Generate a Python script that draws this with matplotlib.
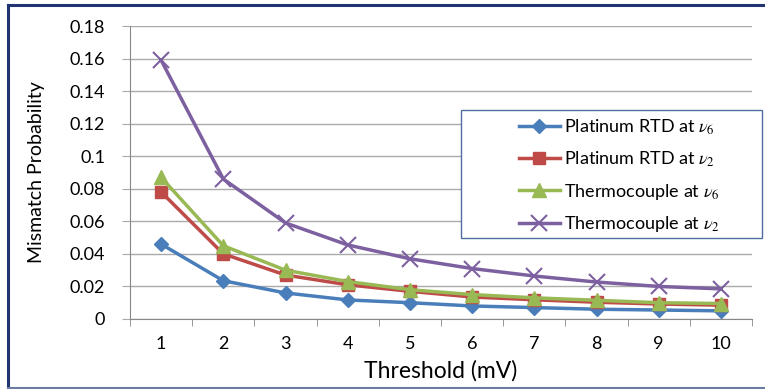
import matplotlib.pyplot as plt
from matplotlib.patches import Rectangle
from matplotlib.lines import Line2D

plt.rcParams['font.family'] = ['Lato', 'DejaVu Sans']
plt.rcParams['mathtext.fontset'] = 'stix'

threshold = [1, 2, 3, 4, 5, 6, 7, 8, 9, 10]
rtd_v6 = [0.046, 0.0235, 0.016, 0.0117, 0.010, 0.008, 0.007, 0.006, 0.0055, 0.005]
rtd_v2 = [0.078, 0.040, 0.027, 0.021, 0.017, 0.0135, 0.0118, 0.0103, 0.0092, 0.0085]
tc_v6 = [0.087, 0.045, 0.030, 0.023, 0.018, 0.015, 0.013, 0.0115, 0.010, 0.0095]
tc_v2 = [0.159, 0.086, 0.059, 0.0455, 0.037, 0.031, 0.0264, 0.0227, 0.020, 0.0185]

labels = ['Platinum RTD at $\\nu_6$', 'Platinum RTD at $\\nu_2$',
          'Thermocouple at $\\nu_6$', 'Thermocouple at $\\nu_2$']

fig = plt.figure(figsize=(7.65, 3.89), dpi=100)
ax = fig.add_axes([0.170, 0.180, 0.813, 0.753])

ax.plot(threshold, rtd_v6, color='#4A7EBB', lw=2.5, marker='D', ms=7, label=labels[0])
ax.plot(threshold, rtd_v2, color='#BE4B48', lw=2.5, marker='s', ms=9, label=labels[1])
ax.plot(threshold, tc_v6, color='#98B954', lw=2.5, marker='^', ms=10, label=labels[2])
ax.plot(threshold, tc_v2, color='#7D60A0', lw=2.5, marker='x', ms=11, mew=1.5, label=labels[3])

ax.set_xlim(0.5, 10.5)
ax.set_ylim(0, 0.18)
ax.set_yticks([0, 0.02, 0.04, 0.06, 0.08, 0.1, 0.12, 0.14, 0.16, 0.18])
ax.set_yticklabels(['0', '0.02', '0.04', '0.06', '0.08', '0.1', '0.12', '0.14', '0.16', '0.18'])
ax.set_xticks(threshold)
ax.set_xticks([x + 0.5 for x in range(0, 11)], minor=True)
ax.tick_params(axis='x', which='major', length=0, pad=12, labelsize=13)
ax.tick_params(axis='x', which='minor', length=5, color='#888888')
ax.tick_params(axis='y', length=6, color='#aaaaaa', labelsize=13, pad=12)
ax.grid(axis='y', color='#aaaaaa', lw=1)
ax.set_axisbelow(True)
for s in ['top', 'right']:
    ax.spines[s].set_visible(False)
for s in ['left', 'bottom']:
    ax.spines[s].set_color('#888888')

ax.set_xlabel('Threshold (mV)', fontsize=16.5, labelpad=6)
ax.set_ylabel('Mismatch Probability', fontsize=14, labelpad=18)

# legend box
box = Rectangle((0.532, 0.276), 0.484, 0.437, transform=ax.transAxes, facecolor='white',
                edgecolor='#4F6FA0', lw=1, clip_on=False, zorder=5)
ax.add_patch(box)
leg = ax.legend(loc='upper left', bbox_to_anchor=(0.613, 0.712), frameon=False, fontsize=13,
                handlelength=2.3, handletextpad=0.2, labelspacing=0.7, borderaxespad=0)
leg.set_zorder(6)

# figure border
fig.lines.append(Line2D([7.5 / 765, 7.5 / 765], [1.5 / 389, 1 - 4.5 / 389], transform=fig.transFigure,
                        color='#1F3470', lw=2.2))
fig.lines.append(Line2D([7.5 / 765, 1], [1 - 4.5 / 389, 1 - 4.5 / 389], transform=fig.transFigure,
                        color='#1F3470', lw=2.2))
fig.lines.append(Line2D([7.5 / 765, 1], [1.5 / 389, 1.5 / 389], transform=fig.transFigure,
                        color='#6A7AA5', lw=1.5))

fig.savefig('out.png', dpi=100)
